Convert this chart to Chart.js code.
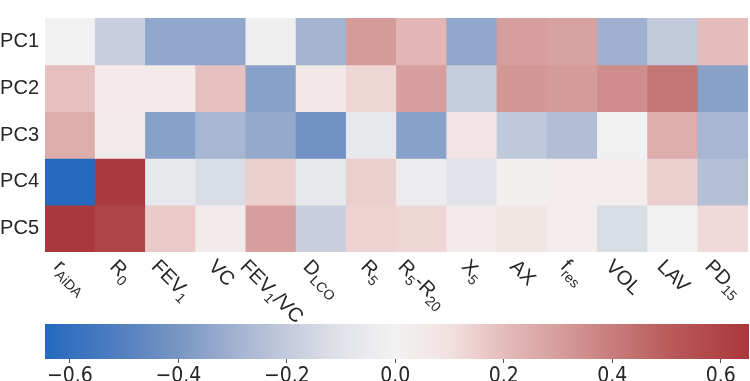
<!DOCTYPE html>
<html>
<head>
<meta charset="utf-8">
<script src="https://cdn.jsdelivr.net/npm/chart.js@4.4.1/dist/chart.umd.min.js"></script>
<style>
  html, body { margin: 0; padding: 0; background: #fff; }
  #wrap { position: relative; width: 750px; height: 381px; overflow: hidden; }
  #heat { position: absolute; left: 0; top: 0; }
  #cbar { position: absolute; left: 0; top: 315px; }
</style>
</head>
<body>
<div id="wrap">
  <canvas id="heat" width="750" height="330"></canvas>
  <canvas id="cbar" width="750" height="66"></canvas>
</div>
<script>
const rowLabels = ['PC1', 'PC2', 'PC3', 'PC4', 'PC5'];
const colLabels = ['r_{AiDA}', 'R_{0}', 'FEV_{1}', 'VC', 'FEV_{1}/VC', 'D_{LCO}', 'R_{5}',
  'R_{5}-R_{20}', 'X_{5}', 'AX', 'f_{res}', 'VOL', 'LAV', 'PD_{15}'];

const pc1 = [-0.01, -0.18, -0.34, -0.34, -0.02, -0.29, 0.31, 0.22, -0.34, 0.30, 0.29, -0.30, -0.20, 0.20];
const pc2 = [0.19, 0.05, 0.05, 0.19, -0.36, 0.06, 0.13, 0.30, -0.19, 0.32, 0.31, 0.35, 0.42, -0.36];
const pc3 = [0.25, 0.04, -0.36, -0.28, -0.33, -0.42, -0.07, -0.36, 0.08, -0.21, -0.25, -0.01, 0.25, -0.28];
const pc4 = [-0.646, 0.64, -0.06, -0.13, 0.15, -0.07, 0.15, -0.04, -0.10, 0.02, 0.03, 0.03, 0.15, -0.24];
const pc5 = [0.652, 0.60, 0.16, 0.04, 0.30, -0.18, 0.14, 0.13, 0.05, 0.07, 0.03, -0.13, -0.01, 0.12];
const rows = [pc1, pc2, pc3, pc4, pc5];

const cbarMin = -0.646;
const cbarMax = 0.652;
const cbarTicks = [-0.6, -0.4, -0.2, 0, 0.2, 0.4, 0.6];

// diverging blue-white-red map (seaborn "vlag"-like), sampled off the colorbar
const cmapStops = [-0.646, -0.5, -0.4, -0.3, -0.2, -0.1, 0, 0.1, 0.2, 0.3, 0.4, 0.5, 0.652];
const cmapRGB = [
  [35, 105, 189], [85, 128, 192], [120, 150, 195], [160, 177, 207], [195, 202, 220],
  [225, 227, 233], [243, 242, 242], [242, 225, 224], [228, 188, 187], [214, 158, 156],
  [200, 125, 124], [186, 92, 92], [169, 55, 59]
];

function colorFor(v) {
  if (v <= cmapStops[0]) return `rgb(${cmapRGB[0].join(',')})`;
  for (let i = 1; i < cmapStops.length; i++) {
    if (v <= cmapStops[i]) {
      const t = (v - cmapStops[i - 1]) / (cmapStops[i] - cmapStops[i - 1]);
      const a = cmapRGB[i - 1], b = cmapRGB[i];
      const c = a.map((x, k) => Math.round(x + (b[k] - x) * t));
      return `rgb(${c.join(',')})`;
    }
  }
  return `rgb(${cmapRGB[cmapRGB.length - 1].join(',')})`;
}

const FONT = '"Liberation Sans", Arial, sans-serif';
const TEXT = '#262626';

// rotated x labels with subscripts, bbox centred under each column
const xLabelPlugin = {
  id: 'xLabels',
  afterDraw(chart) {
    const ctx = chart.ctx;
    const xs = chart.scales.x;
    const top = chart.chartArea.bottom + 5;
    colLabels.forEach((lab, i) => {
      const parts = lab.split(/(_\{[^}]*\})/).filter(Boolean).map(p =>
        p.startsWith('_{') ? { t: p.slice(2, -1), sub: true } : { t: p, sub: false });
      let w = 0;
      parts.forEach(p => {
        ctx.font = (p.sub ? '14px ' : '20px ') + FONT;
        p.w = ctx.measureText(p.t).width;
        w += p.w;
      });
      const h = 20;
      const cx = xs.getPixelForValue(i);
      const px = cx - (w - h) / (2 * Math.SQRT2);
      ctx.save();
      ctx.translate(px, top);
      ctx.rotate(Math.PI / 4);
      ctx.fillStyle = TEXT;
      ctx.textBaseline = 'alphabetic';
      ctx.textAlign = 'left';
      let x = 0;
      parts.forEach(p => {
        ctx.font = (p.sub ? '14px ' : '20px ') + FONT;
        ctx.fillText(p.t, x, p.sub ? 20 : 15);
        x += p.w;
      });
      ctx.restore();
    });
  }
};

new Chart(document.getElementById('heat').getContext('2d'), {
  type: 'bar',
  data: {
    labels: colLabels,
    datasets: rows.map((vals, i) => ({
      label: rowLabels[i],
      data: vals.map(() => 1),
      backgroundColor: vals.map(colorFor),
      borderWidth: 0,
      barPercentage: 1,
      categoryPercentage: 1
    }))
  },
  options: {
    responsive: false,
    animation: false,
    layout: { padding: { top: 1, right: 2, bottom: 78, left: 0 } },
    plugins: { legend: { display: false }, tooltip: { enabled: false } },
    scales: {
      x: { stacked: true, display: false },
      y: {
        stacked: true,
        reverse: true,
        min: 0,
        max: 5,
        afterBuildTicks: s => { s.ticks = rowLabels.map((_, i) => ({ value: i + 0.5 })); },
        afterFit: s => { s.width = 45; },
        grid: { display: false, drawTicks: false },
        border: { display: false },
        ticks: {
          padding: 6,
          color: TEXT,
          font: { family: FONT, size: 20 },
          callback: v => rowLabels[Math.floor(v)]
        }
      }
    }
  },
  plugins: [xLabelPlugin]
});

new Chart(document.getElementById('cbar').getContext('2d'), {
  type: 'bar',
  data: {
    labels: ['cbar'],
    datasets: [{
      data: [[cbarMin, cbarMax]],
      borderWidth: 0,
      barPercentage: 1,
      categoryPercentage: 1,
      backgroundColor: c => {
        const chart = c.chart;
        if (!chart.chartArea) return null;
        const xs = chart.scales.x;
        const g = chart.ctx.createLinearGradient(xs.getPixelForValue(cbarMin), 0, xs.getPixelForValue(cbarMax), 0);
        cmapStops.forEach((v, i) => {
          g.addColorStop((v - cbarMin) / (cbarMax - cbarMin), `rgb(${cmapRGB[i].join(',')})`);
        });
        return g;
      }
    }]
  },
  options: {
    indexAxis: 'y',
    responsive: false,
    animation: false,
    layout: { padding: { top: 9, right: 1, bottom: 0, left: 45 } },
    plugins: { legend: { display: false }, tooltip: { enabled: false } },
    scales: {
      y: { display: false },
      x: {
        min: cbarMin,
        max: cbarMax,
        afterBuildTicks: s => { s.ticks = cbarTicks.map(v => ({ value: v })); },
        afterFit: s => { s.height = 22; },
        grid: { drawOnChartArea: false, drawTicks: true, tickLength: 4, color: '#555' },
        border: { display: false },
        ticks: {
          padding: 1,
          color: TEXT,
          font: { family: '"Liberation Sans Narrow", "DejaVu Sans Condensed", ' + FONT, size: 21 },
          callback: v => (v < 0 ? '\u2212' : '') + Math.abs(v).toFixed(1)
        }
      }
    }
  }
});
</script>
</body>
</html>
